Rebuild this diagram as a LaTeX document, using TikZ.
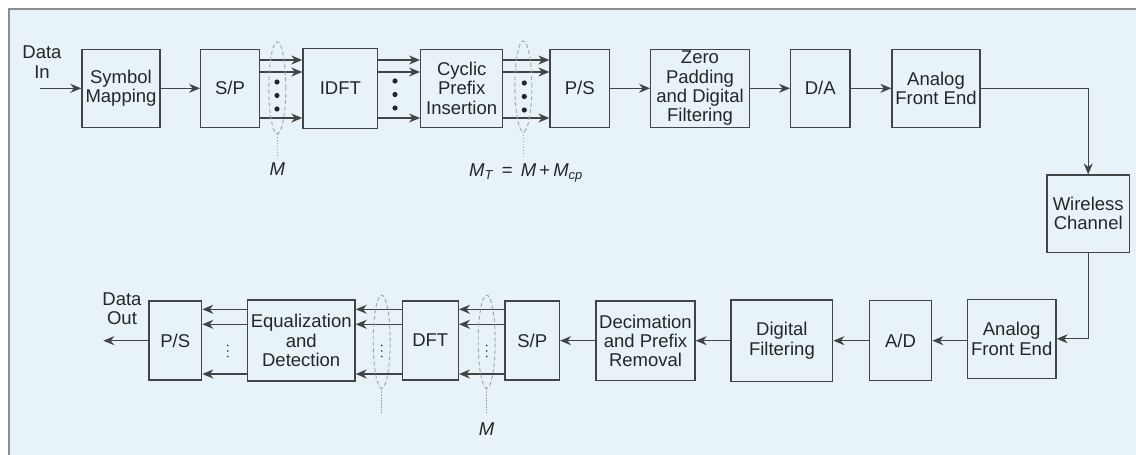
\documentclass[tikz,border=0pt]{standalone}
\usepackage{fontspec}
\setmainfont{Liberation Sans}
\usetikzlibrary{arrows.meta,calc}
\definecolor{bgc}{HTML}{E7F3F8}
\definecolor{framec}{HTML}{8C8C8C}
\definecolor{linec}{HTML}{444444}
\definecolor{textc}{HTML}{262626}
\definecolor{ellc}{HTML}{A5A5A5}
\newcommand{\bfnt}{\fontsize{18.5}{19.3}\selectfont}
\tikzset{
  blk/.style={draw=linec, line width=1.3pt, align=center, inner sep=0pt, text=textc, font=\bfnt},
  lbl/.style={align=center, inner sep=0pt, text=textc, font=\bfnt},
  arr/.style={draw=linec, line width=1.3pt, -{Stealth[length=11pt,width=9pt,inset=3.5pt]}},
  ell/.style={draw=ellc, line width=0.9pt, dash pattern=on 4pt off 2.5pt},
  ellline/.style={draw=ellc, line width=0.9pt, dash pattern=on 1.5pt off 1.5pt},
  bigdot/.style={fill=textc},
}
\begin{document}
\begin{tikzpicture}[x=1pt,y=-1pt]
\useasboundingbox (0,0) rectangle (1136,455);
\fill[bgc] (9,9) rectangle (1136,455);
\draw[framec, line width=1.5pt] (9,455) -- (9,9) -- (1136,9);

% top row
\node[blk, minimum width=78pt, minimum height=78pt] (sm) at (121,88.3) {Symbol\\Mapping};
\node[blk, minimum width=58.6pt, minimum height=78pt] (sp1) at (230,88.3) {S/P};
\node[blk, minimum width=74.7pt, minimum height=80pt] (idft) at (340.3,88.3) {IDFT};
\node[blk, minimum width=82pt, minimum height=78pt] (cp) at (461.7,88.3) {Cyclic\\Prefix\\Insertion};
\node[blk, minimum width=59.3pt, minimum height=78pt] (ps1) at (579.7,88.3) {P/S};
\node[blk, minimum width=98.6pt, minimum height=78pt] (zp) at (700,88.3) {Zero\\Padding\\and Digital\\Filtering};
\node[blk, minimum width=59.3pt, minimum height=78pt] (da) at (820.3,88.3) {D/A};
\node[blk, minimum width=88pt, minimum height=78pt] (afe1) at (936,88.3) {Analog\\Front End};
\node[blk, minimum width=82.3pt, minimum height=77.3pt] (wc) at (1088.2,213.7) {Wireless\\Channel};

% bottom row
\node[blk, minimum width=88.7pt, minimum height=79pt] (afe2) at (1011.7,338.8) {Analog\\Front End};
\node[blk, minimum width=62.4pt, minimum height=80pt] (ad) at (900.5,340.7) {A/D};
\node[blk, minimum width=101.7pt, minimum height=81.7pt] (df) at (781.9,340.8) {Digital\\Filtering};
\node[blk, minimum width=99pt, minimum height=79.7pt] (dec) at (645.5,340.8) {Decimation\\and Prefix\\Removal};
\node[blk, minimum width=54.3pt, minimum height=79pt] (sp2) at (532.2,340.5) {S/P};
\node[blk, minimum width=56pt, minimum height=79pt] (dft) at (430.3,340.5) {DFT};
\node[blk, minimum width=107.7pt, minimum height=81pt] (eq) at (301.2,340.5) {Equalization\\and\\Detection};
\node[blk, minimum width=52.7pt, minimum height=79pt] (ps2) at (175.3,340.5) {P/S};

% data in / out
\node[lbl] (din) at (42,62) {Data\\In};
\coordinate (dinstart) at (40,88.3);
\draw[arr] (dinstart) -- (sm.west);
\node[lbl] (dout) at (122,309) {Data\\Out};
\coordinate (doutend) at (103.3,340.7);
\draw[arr] (ps2.west |- doutend) -- (doutend);

% top connectors
\draw[arr] (sm) -- (sp1);
\foreach \yy in {60,72,118} {
  \draw[arr] (sp1.east |- 0,\yy) -- (idft.west |- 0,\yy);
  \draw[arr] (idft.east |- 0,\yy) -- (cp.west |- 0,\yy);
  \draw[arr] (cp.east |- 0,\yy) -- (ps1.west |- 0,\yy);
}
\draw[arr] (ps1) -- (zp);
\draw[arr] (zp) -- (da);
\draw[arr] (da) -- (afe1);
\draw[arr] (afe1.east) -| (wc.north);
\draw[arr] (wc.south) |- (afe2.east);

% bottom connectors
\draw[arr] (afe2.west |- 0,340.7) -- (ad.east |- 0,340.7);
\draw[arr] (ad.west |- 0,340.7) -- (df.east |- 0,340.7);
\draw[arr] (df.west |- 0,340.7) -- (dec.east |- 0,340.7);
\draw[arr] (dec.west |- 0,340.7) -- (sp2.east |- 0,340.7);
\foreach \yy in {309.3,324.3,374} {
  \draw[arr] (sp2.west |- 0,\yy) -- (dft.east |- 0,\yy);
  \draw[arr] (dft.west |- 0,\yy) -- (eq.east |- 0,\yy);
  \draw[arr] (eq.west |- 0,\yy) -- (ps2.east |- 0,\yy);
}

% big dots top
\foreach \xx/\yo in {277/0,395/-1,524.3/1} {
  \foreach \yy in {82,95.5,109} {
    \fill[bigdot] (\xx,\yy+\yo) circle (2.6pt);
  }
}
% small dots bottom
\foreach \xx in {227.7,381.7,486.7} {
  \foreach \yy in {345.5,351,356.5} {
    \fill[textc] (\xx,\yy) circle (0.9pt);
  }
}

% ellipses
\draw[ell] (277.3,87.8) ellipse [x radius=8.5pt, y radius=46pt];
\draw[ellline] (277.3,133.8) -- (277.3,155);
\draw[ell] (523.3,86.4) ellipse [x radius=8.5pt, y radius=45.4pt];
\draw[ellline] (523.3,131.8) -- (523.3,156.7);
\draw[ell] (381.7,341.6) ellipse [x radius=8.5pt, y radius=46.6pt];
\draw[ellline] (381.7,388.2) -- (381.7,413.3);
\draw[ell] (486.7,341.6) ellipse [x radius=8.5pt, y radius=46.6pt];
\draw[ellline] (486.7,388.2) -- (486.7,413.3);

% labels
\node[lbl] (m1) at (277.3,169) {\textit{M}};
\node[lbl] (mt) at (526,172.7) {\textit{M}\textsubscript{\textit{T}} \,=\, \textit{M}\,+\,\textit{M}\textsubscript{\textit{cp}}};
\node[lbl] (m2) at (486.7,429) {\textit{M}};
\end{tikzpicture}
\end{document}
